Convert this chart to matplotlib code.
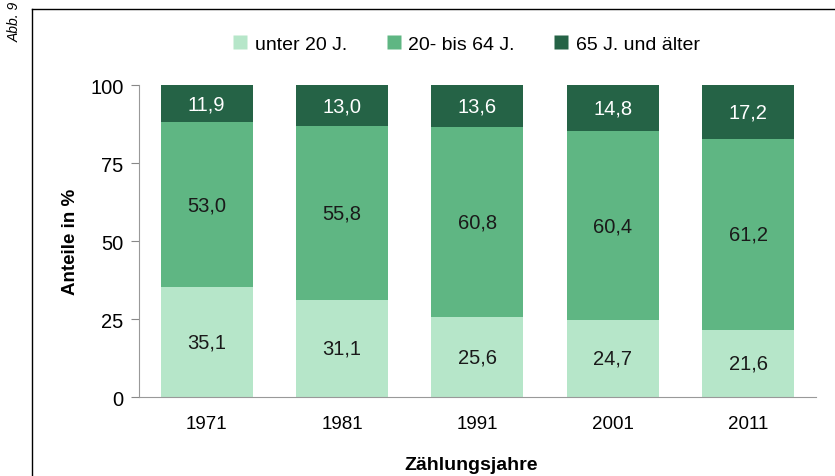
import matplotlib
matplotlib.use("Agg")
import matplotlib.pyplot as plt
from matplotlib.lines import Line2D

plt.rcParams['font.family'] = ['Liberation Sans', 'DejaVu Sans']

years = ['1971', '1981', '1991', '2001', '2011']
unter20 = [35.1, 31.1, 25.6, 24.7, 21.6]
mitte = [53.0, 55.8, 60.8, 60.4, 61.2]
ueber65 = [11.9, 13.0, 13.6, 14.8, 17.2]
series_names = ['unter 20 J.', '20- bis 64 J.', '65 J. und älter']
colors = ['#b6e6c9', '#5fb683', '#256346']
text_colors = ['#1a1a1a', '#1a1a1a', 'white']

fig = plt.figure(figsize=(8.35, 4.77), dpi=100)
ax = fig.add_axes([0.1665, 0.1656, 0.8105, 0.6541])

x = range(len(years))
bottom = [0] * len(years)
for vals, col, tcol in zip([unter20, mitte, ueber65], colors, text_colors):
    ax.bar(x, vals, width=0.68, bottom=bottom, color=col, edgecolor='none')
    for i, v in enumerate(vals):
        top = min(bottom[i] + v, 100)
        ax.text(i, (bottom[i] + top) / 2, f'{v:.1f}'.replace('.', ','),
                ha='center', va='center', fontsize=14.5, color=tcol)
    bottom = [b + v for b, v in zip(bottom, vals)]

ax.set_xlim(-0.5, 4.5)
ax.set_ylim(0, 100)
ax.set_yticks([0, 25, 50, 75, 100])
ax.set_xticks(list(x))
ax.set_xticklabels(years)
ax.tick_params(axis='y', labelsize=14.5, length=6, color='#888888', pad=5)
ax.tick_params(axis='x', labelsize=13.5, length=0, pad=13)
for s in ['top', 'right']:
    ax.spines[s].set_visible(False)
for s in ['left', 'bottom']:
    ax.spines[s].set_color('#999999')
ax.set_ylabel('Anteile in %', fontsize=13.5, fontweight='bold')
ax.yaxis.set_label_coords(-0.088, 0.5)
ax.set_xlabel('Zählungsjahre', fontsize=14, fontweight='bold', labelpad=15)
ax.xaxis.set_label_coords(0.49, -0.19)

handles = [Line2D([], [], marker='s', linestyle='none', markersize=10,
                  markerfacecolor=c, markeredgecolor='none') for c in colors]
fig.legend(handles, series_names, loc='center', bbox_to_anchor=(0.557, 0.906),
           ncol=3, frameon=False, fontsize=14, handletextpad=0.25,
           columnspacing=1.9, handlelength=1.0)

# frame and figure number
fig.add_artist(Line2D([32 / 835, 32 / 835], [0, 1 - 10 / 477], color='black', lw=1))
fig.add_artist(Line2D([32 / 835, 1], [1 - 10 / 477, 1 - 10 / 477], color='black', lw=1))
fig.text(15 / 835, 1 - 22 / 477, 'Abb. 9', rotation=90, style='italic',
         fontsize=10, ha='center', va='center')

fig.savefig('out.png', dpi=100)
